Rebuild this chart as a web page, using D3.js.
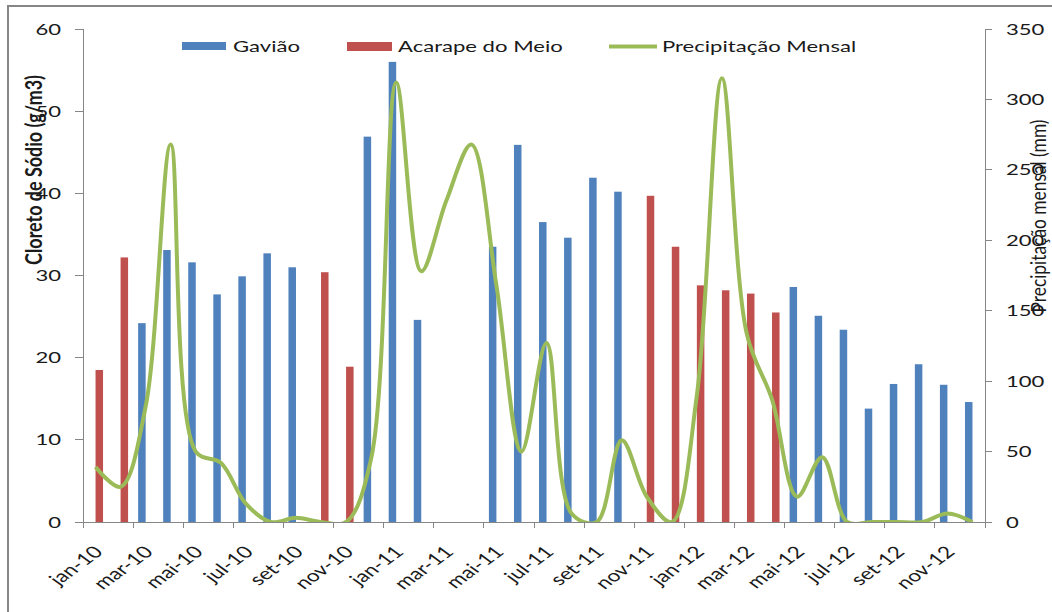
<!DOCTYPE html>
<html>
<head>
<meta charset="utf-8">
<script src="https://cdn.jsdelivr.net/npm/d3@7"></script>
<style>
  html, body { margin: 0; padding: 0; background: #fff; }
  svg { display: block; font-family: Lato, "Open Sans", sans-serif; }
</style>
</head>
<body>
<svg id="chart" width="1052" height="612"></svg>
<script>
// ---- data ----
const categories = [
  "jan-10","fev-10","mar-10","abr-10","mai-10","jun-10","jul-10","ago-10","set-10","out-10","nov-10","dez-10",
  "jan-11","fev-11","mar-11","abr-11","mai-11","jun-11","jul-11","ago-11","set-11","out-11","nov-11","dez-11",
  "jan-12","fev-12","mar-12","abr-12","mai-12","jun-12","jul-12","ago-12","set-12","out-12","nov-12","dez-12"
];
const gaviao = [
  null, null, 24.2, 33.1, 31.6, 27.7, 29.9, 32.7, 31.0, null, null, 46.9,
  56.0, 24.6, null, null, 33.5, 45.9, 36.5, 34.6, 41.9, 40.2, null, null,
  null, null, null, null, 28.6, 25.1, 23.4, 13.8, 16.8, 19.2, 16.7, 14.6
];
const acarape = [
  18.5, 32.2, null, null, null, null, null, null, null, 30.4, 18.9, null,
  null, null, null, null, null, null, null, null, null, null, 39.7, 33.5,
  28.8, 28.2, 27.8, 25.5, null, null, null, null, null, null, null, null
];
const precipitacao = [
  39, 25, 82, 268, 50, 42, 13, 0, 3, 0, 0, 45,
  312, 178, 228, 268, 168, 50, 127, 6, 0, 58, 18, 0,
  90, 315, 133, 87, 18, 46, 0, 0, 0, 0, 6, 0
];
const leftTicks = [0, 10, 20, 30, 40, 50, 60];
const rightTicks = [0, 50, 100, 150, 200, 250, 300, 350];
const seriesNames = ["Gavião", "Acarape do Meio", "Precipitação Mensal"];
const tickLabelCats = categories.filter((d, i) => i % 2 === 0);

// ---- layout ----
const svg = d3.select("#chart");
const L = 83, R = 985, T = 29, B = 522;
const S = 1.38; // horizontal text stretch
const blue = "#4F81BD", red = "#C0504D", green = "#9BBB59", axisCol = "#868686";

// frame
svg.append("rect").attr("x", 8).attr("y", 6).attr("width", 1100).attr("height", 700)
  .attr("fill", "#fff").attr("stroke", axisCol).attr("stroke-width", 2);

const x0 = d3.scaleBand().domain(categories).range([L, R]).paddingInner(0).paddingOuter(0);
const x1 = d3.scaleBand().domain(["g", "a"]).range([0, x0.bandwidth()]).paddingInner(0).paddingOuter(0.67);
const yL = d3.scaleLinear().domain([0, 60]).range([B, T]);
const yR = d3.scaleLinear().domain([0, 350]).range([B, T]);

// bars
const barG = svg.append("g");
barG.selectAll("rect.g").data(categories.map((c, i) => ({c, v: gaviao[i]})).filter(d => d.v != null))
  .join("rect").attr("class", "g")
  .attr("x", d => x0(d.c) + x1("g")).attr("width", x1.bandwidth())
  .attr("y", d => yL(d.v)).attr("height", d => yL(0) - yL(d.v)).attr("fill", blue);
barG.selectAll("rect.a").data(categories.map((c, i) => ({c, v: acarape[i]})).filter(d => d.v != null))
  .join("rect").attr("class", "a")
  .attr("x", d => x0(d.c) + x1("a")).attr("width", x1.bandwidth())
  .attr("y", d => yL(d.v)).attr("height", d => yL(0) - yL(d.v)).attr("fill", red);

// axes lines
const axG = svg.append("g").attr("stroke", axisCol).attr("stroke-width", 1).attr("shape-rendering", "crispEdges");
axG.append("line").attr("x1", L).attr("x2", L).attr("y1", T).attr("y2", B);
axG.append("line").attr("x1", R).attr("x2", R).attr("y1", T).attr("y2", B);
axG.append("line").attr("x1", L).attr("x2", R).attr("y1", B).attr("y2", B);
leftTicks.forEach(t => axG.append("line").attr("x1", L - 8).attr("x2", L).attr("y1", yL(t)).attr("y2", yL(t)));
rightTicks.forEach(t => axG.append("line").attr("x1", R).attr("x2", R + 7).attr("y1", yR(t)).attr("y2", yR(t)));
categories.forEach((c, i) => { if (i % 2 === 0) axG.append("line").attr("x1", x0(c)).attr("x2", x0(c)).attr("y1", B).attr("y2", B + 6); });
axG.append("line").attr("x1", R).attr("x2", R).attr("y1", B).attr("y2", B + 6);

// line (clipped to plot area)
svg.append("clipPath").attr("id", "plotclip").append("rect")
  .attr("x", L).attr("y", T - 5).attr("width", R - L).attr("height", B - T + 5);
const line = d3.line()
  .x((d, i) => x0(categories[i]) + x0.bandwidth() / 2)
  .y(d => yR(d))
  .curve(d3.curveCatmullRom.alpha(0.5));
svg.append("path").datum(precipitacao).attr("d", line)
  .attr("fill", "none").attr("stroke", green).attr("stroke-width", 4)
  .attr("stroke-linejoin", "round").attr("clip-path", "url(#plotclip)");

// helper for stretched text
function stext(x, y, txt, opts = {}) {
  const g = svg.append("g").attr("transform", `translate(${x},${y}) scale(${S},1)` + (opts.rot ? ` rotate(${opts.rot})` : ""));
  const t = g.append("text").text(txt)
    .attr("font-size", opts.size || 16)
    .attr("fill", opts.fill || "#1a1a1a")
    .attr("text-anchor", opts.anchor || "start")
    .attr("dy", opts.dy != null ? opts.dy : "0.35em");
  if (opts.weight) t.attr("font-weight", opts.weight);
  if (opts.len) t.attr("textLength", opts.len).attr("lengthAdjust", "spacingAndGlyphs");
  return t;
}

// tick labels
leftTicks.forEach(t => stext(61, yL(t), String(t), {anchor: "end"}));
rightTicks.forEach(t => stext(1006, yR(t), String(t), {anchor: "start"}));
tickLabelCats.forEach(c => stext(x0(c) + x0.bandwidth() / 2 + 3, 549, c, {anchor: "end", rot: -45, size: 16.5}));

// axis titles
stext(42, 170, "Cloreto de Sódio (g/m3)", {anchor: "middle", rot: -90, size: 17, weight: "bold", dy: 0, len: 190});
stext(1046, 216, "Precipitação mensal (mm)", {anchor: "middle", rot: -90, size: 16, dy: 0, len: 193});

// legend
const lg = svg.append("g");
lg.append("rect").attr("x", 182).attr("y", 42).attr("width", 44).attr("height", 8).attr("fill", blue);
stext(233, 46.5, seriesNames[0]);
lg.append("rect").attr("x", 347).attr("y", 42).attr("width", 45).attr("height", 9).attr("fill", red);
stext(398, 46.5, seriesNames[1]);
lg.append("line").attr("x1", 609).attr("x2", 657).attr("y1", 46.5).attr("y2", 46.5)
  .attr("stroke", green).attr("stroke-width", 4);
stext(662, 46.5, seriesNames[2]);
</script>
</body>
</html>
